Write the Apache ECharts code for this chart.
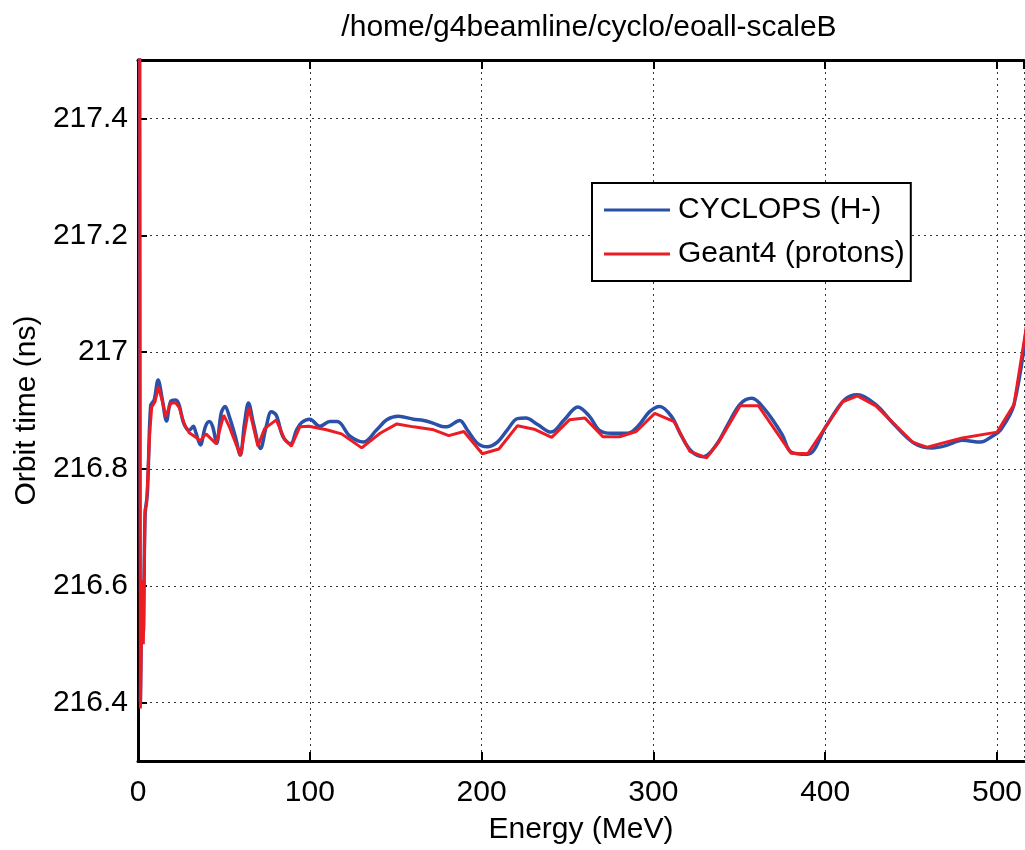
<!DOCTYPE html>
<html>
<head>
<meta charset="utf-8">
<script src="https://cdn.jsdelivr.net/npm/echarts@6/dist/echarts.min.js"></script>
<style>
html,body{margin:0;padding:0;background:#fff;}
#chart{width:1025px;height:850px;}
</style>
</head>
<body>
<div id="chart"></div>
<script>
const titleText = "/home/g4beamline/cyclo/eoall-scaleB";
const xAxisName = "Energy (MeV)";
const yAxisName = "Orbit time (ns)";
const seriesNames = ["CYCLOPS (H-)", "Geant4 (protons)"];

const cyclopsE = [0.8, 1.4, 2.5, 3.1, 4.1, 5.5, 7.4, 9.4, 11.7, 14.2, 16.6, 19.1, 22.0, 24.0, 26.5, 29.8, 32.2, 33.7, 36.3, 39.2, 41.5, 43.5, 45.8, 48.4, 50.7, 53.2, 56.7, 59.5, 62.0, 64.3, 67.2, 71.3, 74.6, 77.6, 80.5, 84.4, 88.9, 92.2, 95.1, 100.0, 105.8, 111.7, 116.0, 123.4, 131.2, 139.0, 144.8, 151.6, 160.4, 166.3, 172.1, 178.0, 180.9, 187.3, 191.6, 197.5, 203.3, 209.2, 215.0, 220.9, 225.7, 232.6, 240.4, 248.1, 256.0, 262.8, 268.6, 275.4, 285.2, 291.0, 297.8, 303.7, 310.5, 316.4, 322.2, 329.1, 336.8, 343.7, 350.5, 357.3, 365.1, 374.9, 380.1, 389.8, 400.5, 411.1, 418.8, 429.5, 439.2, 451.8, 462.4, 470.2, 479.8, 490.5, 497.3, 502.2, 509.9, 518.0];
const cyclopsT = [218.2, 216.40, 216.60, 216.52, 216.72, 216.76, 216.909, 216.918, 216.952, 216.918, 216.882, 216.916, 216.918, 216.909, 216.879, 216.866, 216.873, 216.862, 216.841, 216.872, 216.881, 216.872, 216.844, 216.895, 216.907, 216.889, 216.855, 216.824, 216.878, 216.913, 216.878, 216.835, 216.872, 216.898, 216.892, 216.855, 216.843, 216.866, 216.879, 216.885, 216.873, 216.881, 216.881, 216.856, 216.846, 216.867, 216.884, 216.890, 216.885, 216.883, 216.878, 216.872, 216.873, 216.883, 216.867, 216.844, 216.838, 216.846, 216.867, 216.886, 216.887, 216.876, 216.863, 216.884, 216.906, 216.890, 216.866, 216.861, 216.861, 216.873, 216.898, 216.907, 216.890, 216.856, 216.830, 216.821, 216.842, 216.878, 216.911, 216.921, 216.901, 216.859, 216.829, 216.825, 216.873, 216.918, 216.927, 216.910, 216.879, 216.844, 216.836, 216.840, 216.849, 216.846, 216.856, 216.867, 216.910, 217.06];

const geantE = [0.8, 1.4, 2.5, 3.1, 4.1, 5.0, 6.0, 7.0, 8.0, 9.9, 11.9, 14.2, 16.2, 19.1, 22.0, 24.0, 26.9, 29.8, 34.7, 36.1, 39.6, 45.4, 49.9, 53.2, 59.7, 64.5, 69.8, 73.7, 80.5, 85.4, 89.3, 94.2, 99.5, 109.7, 118.5, 130.2, 140.9, 150.7, 160.4, 172.1, 180.9, 189.7, 200.4, 210.1, 220.9, 230.6, 240.8, 251.1, 260.2, 270.6, 280.3, 290.0, 300.8, 312.1, 321.2, 331.0, 337.8, 350.5, 361.2, 380.1, 389.8, 410.1, 418.8, 429.5, 450.8, 459.5, 469.2, 479.8, 500.1, 509.9, 518.0];
const geantT = [218.2, 216.39, 216.61, 216.50, 216.73, 216.74, 216.81, 216.87, 216.906, 216.915, 216.941, 216.915, 216.890, 216.913, 216.913, 216.905, 216.877, 216.862, 216.852, 216.848, 216.860, 216.843, 216.892, 216.872, 216.822, 216.905, 216.839, 216.869, 216.884, 216.850, 216.839, 216.872, 216.873, 216.867, 216.860, 216.836, 216.861, 216.877, 216.872, 216.867, 216.857, 216.864, 216.826, 216.834, 216.874, 216.868, 216.854, 216.884, 216.887, 216.855, 216.855, 216.864, 216.895, 216.881, 216.830, 216.819, 216.845, 216.908, 216.908, 216.827, 216.826, 216.915, 216.925, 216.908, 216.846, 216.837, 216.845, 216.853, 216.863, 216.910, 217.06];

const xTicks = [0, 100, 200, 300, 400, 500];
const yTicks = [216.4, 216.6, 216.8, 217, 217.2, 217.4];

const zip = (a, b) => a.map((v, i) => [v, b[i]]);
const FONT = "'Liberation Sans', Arial, Helvetica, sans-serif";

const chart = echarts.init(document.getElementById('chart'), null, {renderer: 'canvas'});
const gridLine = {show: true, lineStyle: {color: '#333', type: [2, 4], width: 1}};
chart.setOption({
  animation: false,
  backgroundColor: '#fff',
  title: {
    text: titleText, left: 584, top: 8, textAlign: 'center',
    textStyle: {fontFamily: FONT, fontSize: 30, fontWeight: 'normal', color: '#000'}
  },
  legend: {
    left: 592, top: 183, orient: 'vertical',
    backgroundColor: '#fff', borderColor: '#000', borderWidth: 2,
    padding: [12, 6, 12, 12], itemGap: 14, itemWidth: 66, itemHeight: 3,
    icon: 'rect',
    textStyle: {fontFamily: FONT, fontSize: 30, color: '#000', lineHeight: 30, padding: [0, 0, 0, 3]},
    data: seriesNames
  },
  grid: {left: 138, right: 0, top: 60, bottom: 83, containLabel: false},
  xAxis: [{
    type: 'value', min: 0, max: 515.7, interval: 100,
    name: xAxisName, nameLocation: 'middle', nameGap: 54,
    nameTextStyle: {fontFamily: FONT, fontSize: 30, color: '#000'},
    axisLine: {show: true, onZero: false, lineStyle: {color: '#000', width: 3}},
    axisTick: {show: true, inside: true, length: 9, lineStyle: {color: '#000', width: 2}},
    axisLabel: {show: true, fontFamily: FONT, fontSize: 30, color: '#000', margin: 17, showMaxLabel: false,
      formatter: v => xTicks.includes(v) ? String(v) : ''},
    splitLine: gridLine
  }, {
    type: 'value', position: 'top', min: 0, max: 515.7, interval: 100,
    axisLine: {show: true, onZero: false, lineStyle: {color: '#000', width: 3}},
    axisTick: {show: true, inside: true, length: 9, lineStyle: {color: '#000', width: 2}},
    axisLabel: {show: false}, splitLine: {show: false}
  }],
  yAxis: {
    type: 'value', min: 216.3, max: 217.5, splitNumber: 6,
    name: yAxisName, nameLocation: 'middle', nameGap: 96, nameRotate: 90,
    nameTextStyle: {fontFamily: FONT, fontSize: 30, color: '#000'},
    axisLine: {show: true, onZero: false, lineStyle: {color: '#000', width: 3}},
    axisTick: {show: true, inside: true, length: 9, lineStyle: {color: '#000', width: 2}},
    axisLabel: {show: true, fontFamily: FONT, fontSize: 30, color: '#000', margin: 10,
      showMinLabel: false, showMaxLabel: false,
      formatter: v => { const r = Math.round(v * 10) / 10; return yTicks.some(t => Math.abs(t - v) < 1e-6) ? String(r) : ''; }},
    splitLine: gridLine
  },
  series: [{
    name: seriesNames[0], type: 'line', data: zip(cyclopsE, cyclopsT),
    symbol: 'none', smooth: 0.35, clip: true,
    lineStyle: {color: '#2b50a8', width: 3.5}, itemStyle: {color: '#2b50a8'}
  }, {
    name: seriesNames[1], type: 'line', data: zip(geantE, geantT),
    symbol: 'none', smooth: false, clip: true,
    lineStyle: {color: '#ec1c24', width: 3}, itemStyle: {color: '#ec1c24'}
  }]
});
</script>
</body>
</html>
